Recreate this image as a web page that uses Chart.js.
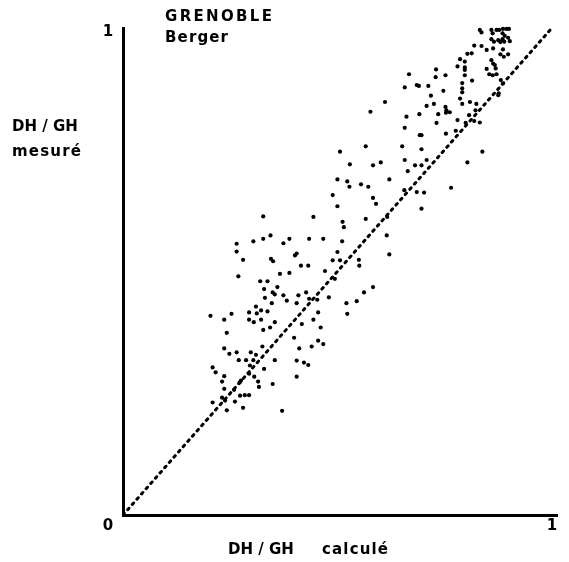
<!DOCTYPE html>
<html>
<head>
<meta charset="utf-8">
<script src="https://cdn.jsdelivr.net/npm/chart.js@4"></script>
<style>
html, body { margin: 0; padding: 0; background: #fff; }
</style>
</head>
<body>
<canvas id="chart" width="569" height="562"></canvas>
<script>
// DH/GH calculé (x) et DH/GH mesuré (y)
const calcule = [
    0.347, 0.310, 0.204, 0.253, 0.236, 0.294, 0.312, 0.322, 0.337, 0.294,
    0.305, 0.322, 0.354, 0.343, 0.327, 0.242, 0.325, 0.236, 0.248, 0.265,
    0.298, 0.310, 0.270, 0.287, 0.304, 0.354, 0.296, 0.209, 0.216, 0.236,
    0.231, 0.294, 0.306, 0.329, 0.315, 0.317, 0.349, 0.275, 0.236, 0.259,
    0.273, 0.284, 0.294, 0.231, 0.238, 0.209, 0.261, 0.280, 0.242, 0.371,
    0.405, 0.405, 0.422, 0.432, 0.272,
    0.327, 0.265, 0.265, 0.304, 0.327, 0.344, 0.374, 0.280, 0.345, 0.350,
    0.269, 0.366, 0.320, 0.337, 0.329, 0.360, 0.349, 0.354, 0.331, 0.374,
    0.512, 0.515, 0.388, 0.434, 0.467, 0.511, 0.615, 0.401, 0.405, 0.500,
    0.621, 0.489, 0.506, 0.415, 0.432, 0.551, 0.550, 0.388, 0.471, 0.494,
    0.480, 0.583, 0.562, 0.545, 0.521, 0.523, 0.382, 0.409, 0.427, 0.405,
    0.434, 0.453, 0.455, 0.444, 0.417, 0.461, 0.399, 0.411, 0.440, 0.455,
    0.467,
    0.577, 0.506, 0.566, 0.529, 0.583, 0.601, 0.621, 0.500, 0.523, 0.528,
    0.555, 0.572, 0.489, 0.583, 0.590, 0.500, 0.444, 0.566, 0.616,
    0.611, 0.708, 0.725, 0.752, 0.754, 0.753, 0.791, 0.809, 0.824, 0.661,
    0.691, 0.735, 0.762, 0.807, 0.822, 0.731, 0.780, 0.799, 0.819, 0.657,
    0.692, 0.696, 0.753, 0.776, 0.651, 0.696, 0.838, 0.657, 0.708, 0.681,
    0.696, 0.803, 0.664, 0.765, 0.656, 0.685, 0.702, 0.696,
    0.832, 0.836, 0.819, 0.836, 0.803, 0.813, 0.786, 0.797, 0.780, 0.797,
    0.797, 0.730, 0.797, 0.667, 0.729, 0.752, 0.814, 0.791, 0.657, 0.685,
    0.690, 0.712, 0.747, 0.791, 0.791, 0.718, 0.786,
    0.859, 0.862, 0.871, 0.877, 0.886, 0.894, 0.900, 0.885, 0.890, 0.885,
    0.889, 0.898, 0.902, 0.859, 0.865, 0.875, 0.880, 0.848, 0.863, 0.886,
    0.880, 0.888, 0.898, 0.859, 0.863, 0.867, 0.848, 0.869, 0.854, 0.862,
    0.871, 0.881, 0.886, 0.876, 0.875, 0.832
];
const mesure = [
    0.435, 0.428, 0.409, 0.413, 0.401, 0.416, 0.414, 0.420, 0.418, 0.401,
    0.396, 0.401, 0.396, 0.385, 0.380, 0.374, 0.346, 0.342, 0.331, 0.334,
    0.334, 0.329, 0.318, 0.318, 0.318, 0.318, 0.307, 0.303, 0.293, 0.285,
    0.274, 0.290, 0.284, 0.300, 0.274, 0.263, 0.269, 0.276, 0.259, 0.257,
    0.245, 0.246, 0.246, 0.241, 0.235, 0.231, 0.233, 0.220, 0.215, 0.214,
    0.284, 0.317, 0.313, 0.308, 0.272,
    0.613, 0.557, 0.541, 0.562, 0.567, 0.574, 0.558, 0.524, 0.526, 0.521,
    0.490, 0.495, 0.480, 0.480, 0.464, 0.468, 0.457, 0.453, 0.446, 0.451,
    0.602, 0.591, 0.567, 0.567, 0.567, 0.562, 0.574, 0.533, 0.537, 0.540,
    0.535, 0.523, 0.523, 0.512, 0.512, 0.512, 0.524, 0.497, 0.501, 0.485,
    0.447, 0.468, 0.457, 0.439, 0.435, 0.413, 0.440, 0.451, 0.457, 0.435,
    0.444, 0.442, 0.416, 0.401, 0.392, 0.385, 0.364, 0.342, 0.346, 0.358,
    0.351,
    0.828, 0.746, 0.757, 0.720, 0.718, 0.724, 0.689, 0.689, 0.685, 0.674,
    0.679, 0.674, 0.657, 0.651, 0.639, 0.634, 0.612, 0.608, 0.612,
    0.848, 0.840, 0.844, 0.838, 0.831, 0.826, 0.844, 0.848, 0.844, 0.818,
    0.823, 0.823, 0.827, 0.821, 0.831, 0.805, 0.811, 0.805, 0.809, 0.795,
    0.780, 0.780, 0.783, 0.789, 0.757, 0.751, 0.746, 0.729, 0.729, 0.718,
    0.718, 0.724, 0.706, 0.672, 0.667, 0.663, 0.662, 0.629,
    0.996, 0.991, 0.964, 0.963, 0.947, 0.948, 0.936, 0.931, 0.921, 0.919,
    0.914, 0.915, 0.903, 0.905, 0.899, 0.903, 0.892, 0.887, 0.878, 0.883,
    0.881, 0.881, 0.871, 0.876, 0.868, 0.861, 0.855,
    0.996, 0.989, 0.996, 0.996, 0.998, 0.998, 0.998, 0.989, 0.984, 0.977,
    0.972, 0.980, 0.973, 0.977, 0.972, 0.975, 0.971, 0.955, 0.958, 0.956,
    0.946, 0.941, 0.946, 0.934, 0.927, 0.924, 0.916, 0.917, 0.905, 0.903,
    0.905, 0.893, 0.886, 0.866, 0.862, 0.806
];
// droite mesuré = calculé
const diagX = [0, 1];
const diagY = [0, 1];
const axeTicks = ["0", "1"];

const points = calcule.map((x, i) => ({ x: x, y: mesure[i] }));
const diagonale = diagX.map((x, i) => ({ x: x, y: diagY[i] }));

// écrit un texte étalé sur une largeur donnée (police de traceur assez large)
function ecrire(ctx, txt, x, y, largeur) {
    ctx.letterSpacing = "0px";
    const w = ctx.measureText(txt).width;
    const esp = Math.max(0, (largeur - w) / (txt.length - 1));
    ctx.letterSpacing = esp + "px";
    ctx.fillText(txt, x, y);
    ctx.letterSpacing = "0px";
}

// textes de la figure (titre, axes, graduations)
const textes = {
    id: "textes",
    afterDraw(chart) {
        const ctx = chart.ctx;
        const sx = chart.scales.x;
        const sy = chart.scales.y;
        ctx.save();
        ctx.fillStyle = "#000";
        ctx.textBaseline = "middle";
        ctx.font = "bold 15px 'DejaVu Sans'";
        ctx.textAlign = "center";
        ctx.fillText(axeTicks[1], sx.left - 15, sy.getPixelForValue(1) + 4);
        ctx.fillText(axeTicks[0], sx.left - 15, sy.bottom + 11);
        ctx.fillText(axeTicks[1], sx.getPixelForValue(1), sy.bottom + 11);

        ctx.textAlign = "left";
        ecrire(ctx, "GRENOBLE", 165, 17, 107);
        ecrire(ctx, "Berger", 165, 38, 63);
        ecrire(ctx, "DH / GH", 12, 127, 58);
        ecrire(ctx, "mesuré", 12, 152, 69);
        ecrire(ctx, "DH / GH", 228, 550, 64);
        ecrire(ctx, "calculé", 322, 550, 66);
        ctx.restore();
    }
};

new Chart(document.getElementById("chart"), {
    type: "scatter",
    data: {
        datasets: [
            {
                label: "DH/GH",
                data: points,
                backgroundColor: "#000",
                borderWidth: 0,
                pointRadius: 2.1,
                clip: false,
            },
            {
                type: "line",
                label: "diagonale",
                data: diagonale,
                borderColor: "#000",
                borderWidth: 3,
                borderDash: [2, 5],
                borderCapStyle: "round",
                pointRadius: 0,
                fill: false,
            },
        ],
    },
    options: {
        responsive: false,
        animation: false,
        devicePixelRatio: 1,
        layout: {
            padding: { left: 123, top: 28, right: 12, bottom: 47 },
        },
        plugins: {
            legend: { display: false },
            tooltip: { enabled: false },
        },
        scales: {
            x: {
                type: "linear",
                min: 0,
                max: 1.012,
                ticks: { display: false },
                grid: { display: false, drawTicks: false },
                border: { display: true, color: "#000", width: 3 },
            },
            y: {
                type: "linear",
                min: 0,
                max: 1,
                ticks: { display: false },
                grid: { display: false, drawTicks: false },
                border: { display: true, color: "#000", width: 3 },
            },
        },
    },
    plugins: [textes],
});
</script>
</body>
</html>
